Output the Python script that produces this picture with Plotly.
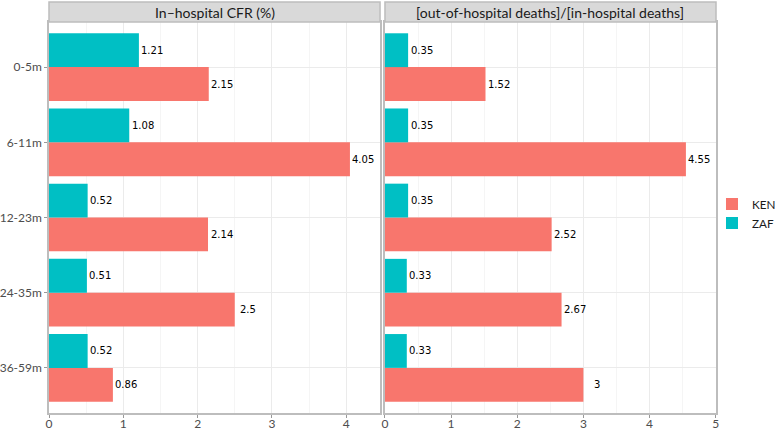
import plotly.graph_objects as go

# Data
ages = ["0-5m", "6-11m", "12-23m", "24-35m", "36-59m"]
cfr_ken = [2.15, 4.05, 2.14, 2.5, 0.86]
cfr_zaf = [1.21, 1.08, 0.52, 0.51, 0.52]
ratio_ken = [1.52, 4.55, 2.52, 2.67, 3]
ratio_zaf = [0.35, 0.35, 0.35, 0.33, 0.33]
panel_titles = ["In\u2013hospital CFR (%)", "[out-of-hospital deaths]/[in-hospital deaths]"]

KEN_COL = "#F8766D"
ZAF_COL = "#00BFC4"
FONT = "Lato"

fig = go.Figure()

# KEN first so it sits in the lower half of each group (ZAF above)
panels = [("x", "y", cfr_ken, cfr_zaf, True), ("x2", "y2", ratio_ken, ratio_zaf, False)]
for xa, ya, ken, zaf, show in panels:
    fig.add_trace(go.Bar(x=ken, y=ages, orientation="h", name="KEN", marker_color=KEN_COL,
                         marker_line_width=0, xaxis=xa, yaxis=ya, legendgroup="KEN", showlegend=show))
    fig.add_trace(go.Bar(x=zaf, y=ages, orientation="h", name="ZAF", marker_color=ZAF_COL,
                         marker_line_width=0, xaxis=xa, yaxis=ya, legendgroup="ZAF", showlegend=show))
    # value labels next to each bar end
    for vals, shift in ((ken, -16.9), (zaf, 16.9)):
        for a, v in zip(ages, vals):
            fig.add_annotation(x=v, y=a, xref=xa, yref=ya, text=f"{v:g}", showarrow=False,
                               xanchor="center", xshift=13.5, yshift=shift,
                               font=dict(family="DejaVu Sans", size=10, color="black"))

axis_common = dict(showline=True, mirror=True, linecolor="#BDBDBD", linewidth=1.5,
                   showgrid=True, gridcolor="#EBEBEB", gridwidth=1, zeroline=False,
                   ticklen=3, tickcolor="#999999", automargin=False,
                   tickfont=dict(family=FONT, size=12, color="#4D4D4D"))
minor_grid = dict(dtick=0.5, showgrid=True, gridcolor="#F5F5F5", gridwidth=0.6)

fig.update_layout(
    xaxis=dict(domain=[0, 0.4963], range=[0, max(cfr_ken) * 1.1], dtick=1, ticks="outside",
               ticklabelstandoff=-4, minor=minor_grid, **axis_common),
    xaxis2=dict(domain=[0.5037, 1], range=[0, max(ratio_ken) * 1.1], dtick=1, anchor="y2",
                ticks="outside", ticklabelstandoff=-4, minor=minor_grid, **axis_common),
    yaxis=dict(categoryorder="array", categoryarray=ages[::-1], range=[-0.6, 4.6],
               ticks="outside", **axis_common),
    yaxis2=dict(categoryorder="array", categoryarray=ages[::-1], range=[-0.6, 4.6], anchor="x2",
                matches="y", showticklabels=False, ticks="", **axis_common),
    barmode="group", bargap=0.1, bargroupgap=0,
    width=777, height=430,
    margin=dict(l=49, r=61, t=22, b=17, autoexpand=False),
    plot_bgcolor="white", paper_bgcolor="white",
    font=dict(family=FONT, size=12, color="#1A1A1A"),
    legend=dict(x=0.994, xanchor="left", y=0.51, yanchor="middle", tracegroupgap=0,
                itemwidth=30, font=dict(family=FONT, size=11.7, color="#1A1A1A"),
                bgcolor="rgba(0,0,0,0)"),
)

# facet strips
strip_h = 20 / 391
for dom, title in ((fig.layout.xaxis.domain, panel_titles[0]), (fig.layout.xaxis2.domain, panel_titles[1])):
    fig.add_shape(type="rect", xref="paper", yref="paper", x0=dom[0], x1=dom[1], y0=1, y1=1 + strip_h,
                  fillcolor="#D9D9D9", line=dict(color="#BDBDBD", width=1.5), layer="above")
    fig.add_annotation(xref="paper", yref="paper", x=(dom[0] + dom[1]) / 2, y=1 + strip_h / 2,
                       text=title, showarrow=False, xanchor="center", yanchor="middle",
                       font=dict(family=FONT, size=14, color="#1A1A1A"))

# the page body has a default 8px margin; remove it so the figure fills the window
fig.write_html("out.html", config={"displayModeBar": False},
               post_script="document.body.style.margin='0';")
